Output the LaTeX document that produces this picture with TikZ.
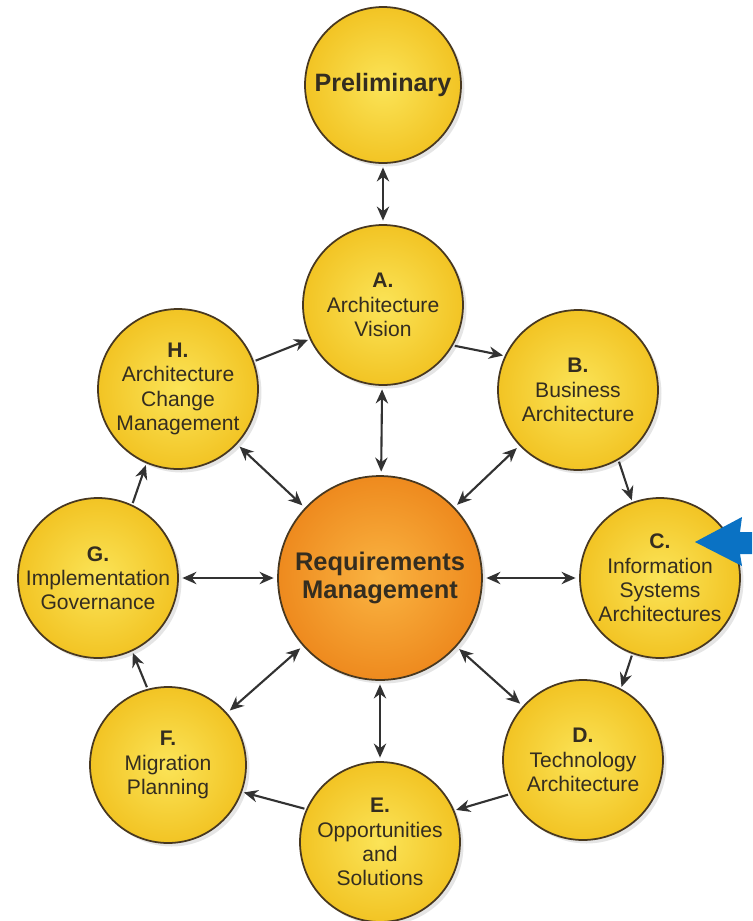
\documentclass[tikz,border=0pt]{standalone}
\usepackage{fontspec}
\setmainfont{Liberation Sans}
\usetikzlibrary{arrows.meta}
\usetikzlibrary{shadows}
\definecolor{ylight}{RGB}{251,228,88}
\definecolor{ydark}{RGB}{242,196,36}
\definecolor{olight}{RGB}{250,180,66}
\definecolor{odark}{RGB}{238,138,30}
\definecolor{rim}{RGB}{72,56,32}
\definecolor{txt}{RGB}{52,45,32}
\definecolor{arrowgray}{RGB}{50,50,50}
\definecolor{pointer}{RGB}{10,114,196}

\begin{document}
\begin{tikzpicture}[x=0.02cm,y=-0.02cm,
  phase/.style={circle,draw=rim,line width=1pt,minimum size=3.2cm,inner sep=0pt,
    inner color=ylight,outer color=ydark,text=txt,align=center,
    font=\fontsize{12}{13.8}\selectfont,
    drop shadow={opacity=0.2,shadow xshift=2pt,shadow yshift=-2pt}},
  twoway/.style={draw=arrowgray,line width=1.2pt,
    {Stealth[length=8pt,width=7pt]}-{Stealth[length=8pt,width=7pt]},
    shorten <=2pt,shorten >=2pt},
  oneway/.style={draw=arrowgray,line width=1.2pt,-{Stealth[length=8pt,width=7pt]},
    shorten <=1pt,shorten >=1pt}]
  \useasboundingbox[fill=white] (0,0) rectangle (752,921);

  \node[phase,minimum size=3.12cm,font=\bfseries\fontsize{14.3}{16}\selectfont] (pre) at (383,85) {Preliminary};
  \node[phase] (a) at (383,305) {\textbf{A.}\\Architecture\\Vision};
  \node[phase] (b) at (578,390) {\textbf{B.}\\Business\\Architecture};
  \node[phase] (c) at (660,578) {\textbf{C.}\\Information\\Systems\\Architectures};
  \node[phase] (d) at (583,760) {\textbf{D.}\\Technology\\Architecture};
  \node[phase] (e) at (380,842) {\textbf{E.}\\Opportunities\\and\\Solutions};
  \node[phase,minimum size=3.12cm] (f) at (168,765) {\textbf{F.}\\Migration\\Planning};
  \node[phase] (g) at (98,578) {\textbf{G.}\\Implementation\\Governance};
  \node[phase] (h) at (178,389) {\textbf{H.}\\Architecture\\Change\\Management};
  \node[phase,minimum size=4.08cm,inner color=olight,outer color=odark,
    font=\bfseries\fontsize{14.5}{16.4}\selectfont] (rm) at (380,578) {Requirements\\Management};

  \draw[twoway] (pre) -- (a);
  \foreach \p in {a,b,c,d,e,f,g,h}
    \draw[twoway] (rm) -- (\p);

  \draw[oneway] (h.20) -- (a.205);
  \draw[oneway] (a.-30) -- (b.155);
  \draw[oneway] (b.-60) -- (c.110);
  \draw[oneway] (c.-110) -- (d.62);
  \draw[oneway] (d.-155) -- (e.23);
  \draw[oneway] (e.156) -- (f.-20);
  \draw[oneway] (f.105) -- (g.-65);
  \draw[oneway] (g.65) -- (h.-113);

  \fill[pointer] (695,542) -- (742,517) -- (740,532) -- (752,532) -- (752,554)
    -- (740,554) -- (742,566) -- cycle;
\end{tikzpicture}
\end{document}
